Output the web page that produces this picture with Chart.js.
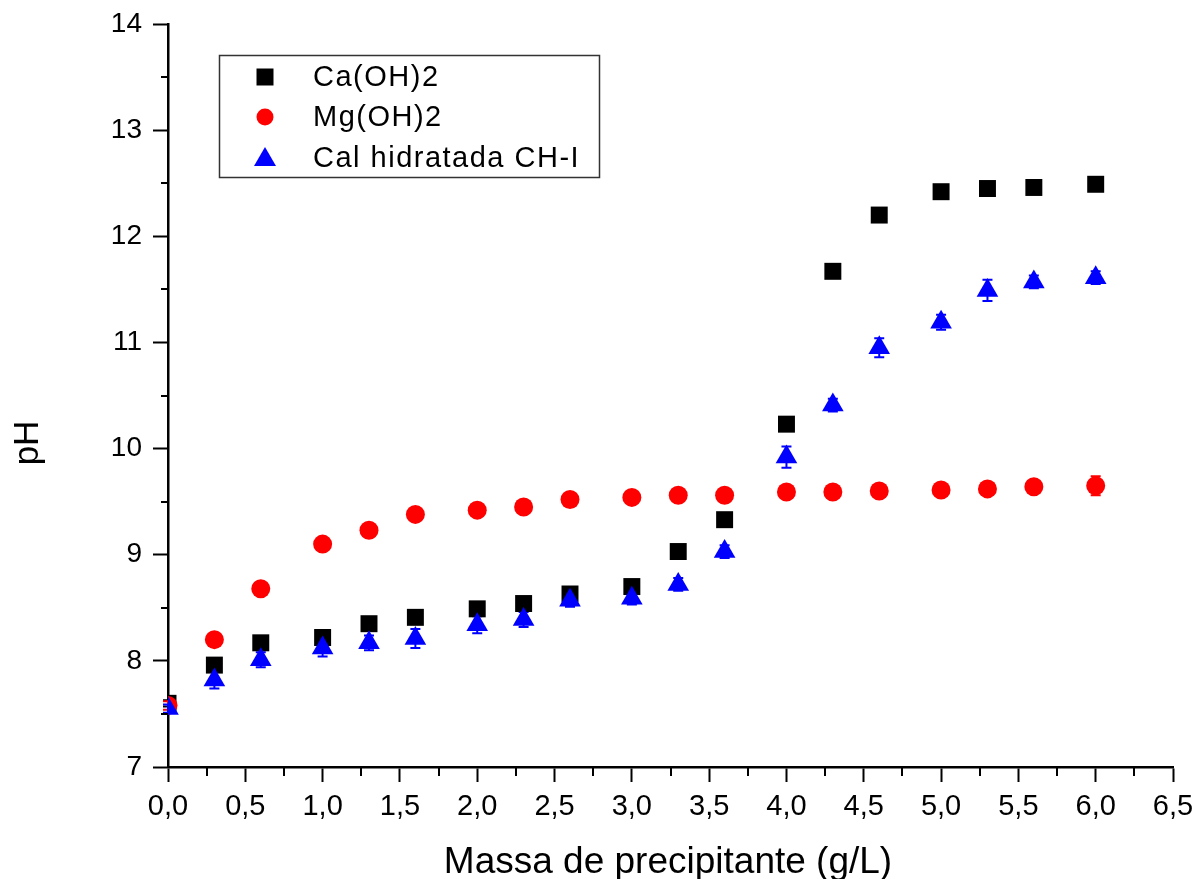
<!DOCTYPE html>
<html>
<head>
<meta charset="utf-8">
<script src="https://cdn.jsdelivr.net/npm/chart.js@4.4.1/dist/chart.umd.min.js"></script>
<style>
    body { margin: 0; background: #fff; }
    #wrap { width: 1195px; height: 879px; }
</style>
</head>
<body>
<div id="wrap"><canvas id="phChart" width="1195" height="879"></canvas></div>
<script>
// massa de precipitante (g/L)
const massa = [0, 0.3, 0.6, 1.0, 1.3, 1.6, 2.0, 2.3, 2.6, 3.0, 3.3, 3.6, 4.0, 4.3, 4.6, 5.0, 5.3, 5.6, 6.0];

// pH
const phCaOH2 = [7.60, 7.96, 8.17, 8.22, 8.35, 8.41, 8.49, 8.54, 8.63, 8.70, 9.03, 9.33, 10.23, 11.67, 12.20, 12.42, 12.45, 12.46, 12.49];
const phMgOH2 = [7.58, 8.20, 8.68, 9.10, 9.23, 9.38, 9.42, 9.45, 9.52, 9.54, 9.56, 9.56, 9.59, 9.59, 9.60, 9.61, 9.62, 9.64, 9.65];
const phCalCH = [7.55, 7.82, 8.01, 8.12, 8.17, 8.21, 8.34, 8.39, 8.57, 8.59, 8.72, 9.03, 9.92, 10.41, 10.95, 11.19, 11.49, 11.57, 11.61];

// barras de erro (desvio)
const errCaOH2 = [0.03, 0.03, 0.03, 0.03, 0.04, 0.03, 0.04, 0.03, 0.03, 0.03, 0.03, 0.03, 0.03, 0.03, 0.03, 0.03, 0.03, 0.03, 0.03];
const errMgOH2 = [0.04, 0.04, 0.04, 0.04, 0.04, 0.04, 0.06, 0.04, 0.04, 0.04, 0.04, 0.04, 0.04, 0.04, 0.04, 0.04, 0.04, 0.04, 0.09];
const errCalCH = [0.04, 0.08, 0.07, 0.08, 0.07, 0.09, 0.08, 0.07, 0.06, 0.06, 0.06, 0.06, 0.10, 0.06, 0.09, 0.07, 0.10, 0.06, 0.06];

const seriesLabels = ["Ca(OH)2", "Mg(OH)2", "Cal hidratada CH-I"];
const xTitle = "Massa de precipitante (g/L)";
const yTitle = "pH";

const FONT = "Arial, 'Liberation Sans', sans-serif";

function toPoints(ys) {
    return massa.map((x, i) => ({ x: x, y: ys[i] }));
}

// error bars, drawn under the markers
const errorBars = {
    id: "errorBars",
    beforeDatasetsDraw(chart) {
        const ctx = chart.ctx;
        const xs = chart.scales.x, ys = chart.scales.y;
        chart.data.datasets.forEach(ds => {
            if (!ds.errors) return;
            ctx.save();
            ctx.strokeStyle = ds.backgroundColor;
            ctx.lineWidth = 2;
            ds.data.forEach((p, i) => {
                const e = ds.errors[i];
                const px = xs.getPixelForValue(p.x);
                const y1 = ys.getPixelForValue(p.y + e);
                const y2 = ys.getPixelForValue(p.y - e);
                ctx.beginPath();
                ctx.moveTo(px, y1); ctx.lineTo(px, y2);
                ctx.moveTo(px - 5, y1); ctx.lineTo(px + 5, y1);
                ctx.moveTo(px - 5, y2); ctx.lineTo(px + 5, y2);
                ctx.stroke();
            });
            ctx.restore();
        });
    }
};

// minor ticks, axis titles and the boxed legend
const decorations = {
    id: "decorations",
    afterDraw(chart) {
        const ctx = chart.ctx;
        const xs = chart.scales.x, ys = chart.scales.y;
        const area = chart.chartArea;
        ctx.save();
        ctx.strokeStyle = "#000";
        ctx.lineWidth = 2;
        ctx.beginPath();
        for (let v = 0.25; v < 6.5; v += 0.5) {
            const px = Math.round(xs.getPixelForValue(v));
            ctx.moveTo(px, area.bottom);
            ctx.lineTo(px, area.bottom + 9);
        }
        for (let v = 7.5; v < 14; v += 1) {
            const py = Math.round(ys.getPixelForValue(v));
            ctx.moveTo(area.left, py);
            ctx.lineTo(area.left - 7, py);
        }
        ctx.stroke();

        // axis titles
        ctx.fillStyle = "#000";
        ctx.font = "37px " + FONT;
        ctx.textAlign = "center";
        ctx.textBaseline = "alphabetic";
        ctx.fillText(xTitle, 668, 873);
        ctx.save();
        ctx.translate(38, 443);
        ctx.rotate(-Math.PI / 2);
        ctx.font = "35px " + FONT;
        ctx.fillText(yTitle, 0, 0);
        ctx.restore();

        // legend
        ctx.lineWidth = 1.5;
        ctx.strokeStyle = "#333";
        ctx.strokeRect(219.5, 55.5, 380, 122);
        const rows = [77, 117, 158];
        chart.data.datasets.forEach((ds, i) => {
            const cy = rows[i], cx = 265;
            ctx.fillStyle = ds.backgroundColor;
            ctx.beginPath();
            if (ds.pointStyle === "rect") {
                ctx.rect(cx - 8.5, cy - 8.5, 17, 17);
            } else if (ds.pointStyle === "circle") {
                ctx.arc(cx, cy, 8.5, 0, Math.PI * 2);
            } else {
                ctx.moveTo(cx, cy - 11);
                ctx.lineTo(cx + 11, cy + 8);
                ctx.lineTo(cx - 11, cy + 8);
                ctx.closePath();
            }
            ctx.fill();
            ctx.fillStyle = "#000";
            ctx.font = "29px " + FONT;
            ctx.letterSpacing = "1.5px";
            ctx.textAlign = "left";
            ctx.textBaseline = "middle";
            ctx.fillText(ds.label, 313, cy + 1);
            ctx.letterSpacing = "0px";
        });
        ctx.restore();
    }
};

const ctx = document.getElementById("phChart").getContext("2d");
new Chart(ctx, {
    type: "scatter",
    data: {
        datasets: [
            {
                label: seriesLabels[0],
                data: toPoints(phCaOH2),
                errors: errCaOH2,
                backgroundColor: "#000000",
                borderColor: "#000000",
                borderWidth: 0,
                pointStyle: "rect",
                pointRadius: 12,
                order: 3
            },
            {
                label: seriesLabels[1],
                data: toPoints(phMgOH2),
                errors: errMgOH2,
                backgroundColor: "#ff0000",
                borderColor: "#ff0000",
                borderWidth: 0,
                pointStyle: "circle",
                pointRadius: 9.5,
                order: 2
            },
            {
                label: seriesLabels[2],
                data: toPoints(phCalCH),
                errors: errCalCH,
                backgroundColor: "#0000ff",
                borderColor: "#0000ff",
                borderWidth: 0,
                pointStyle: "triangle",
                pointRadius: 12.5,
                order: 1
            }
        ]
    },
    options: {
        responsive: false,
        animation: false,
        events: [],
        layout: { padding: { top: 24, right: 22, left: 0, bottom: 0 } },
        plugins: {
            legend: { display: false },
            tooltip: { enabled: false }
        },
        scales: {
            x: {
                type: "linear",
                min: 0,
                max: 6.5,
                afterFit(s) { s.height = 112; s.paddingLeft = 0; s.paddingRight = 0; },
                ticks: {
                    stepSize: 0.5,
                    color: "#000",
                    padding: 8,
                    font: { family: FONT, size: 29 },
                    callback: v => v.toFixed(1).replace(".", ",")
                },
                grid: { drawOnChartArea: false, drawTicks: true, tickLength: 15, tickWidth: 2, tickColor: "#000" },
                border: { display: true, color: "#000", width: 2.5 }
            },
            y: {
                min: 7,
                max: 14,
                afterFit(s) { s.width = 168; s.paddingTop = 0; s.paddingBottom = 0; },
                ticks: {
                    stepSize: 1,
                    color: "#000",
                    padding: 11,
                    font: { family: FONT, size: 28 }
                },
                grid: { drawOnChartArea: false, drawTicks: true, tickLength: 15, tickWidth: 2, tickColor: "#000" },
                border: { display: true, color: "#000", width: 2.5 }
            }
        }
    },
    plugins: [errorBars, decorations]
});
</script>
</body>
</html>
